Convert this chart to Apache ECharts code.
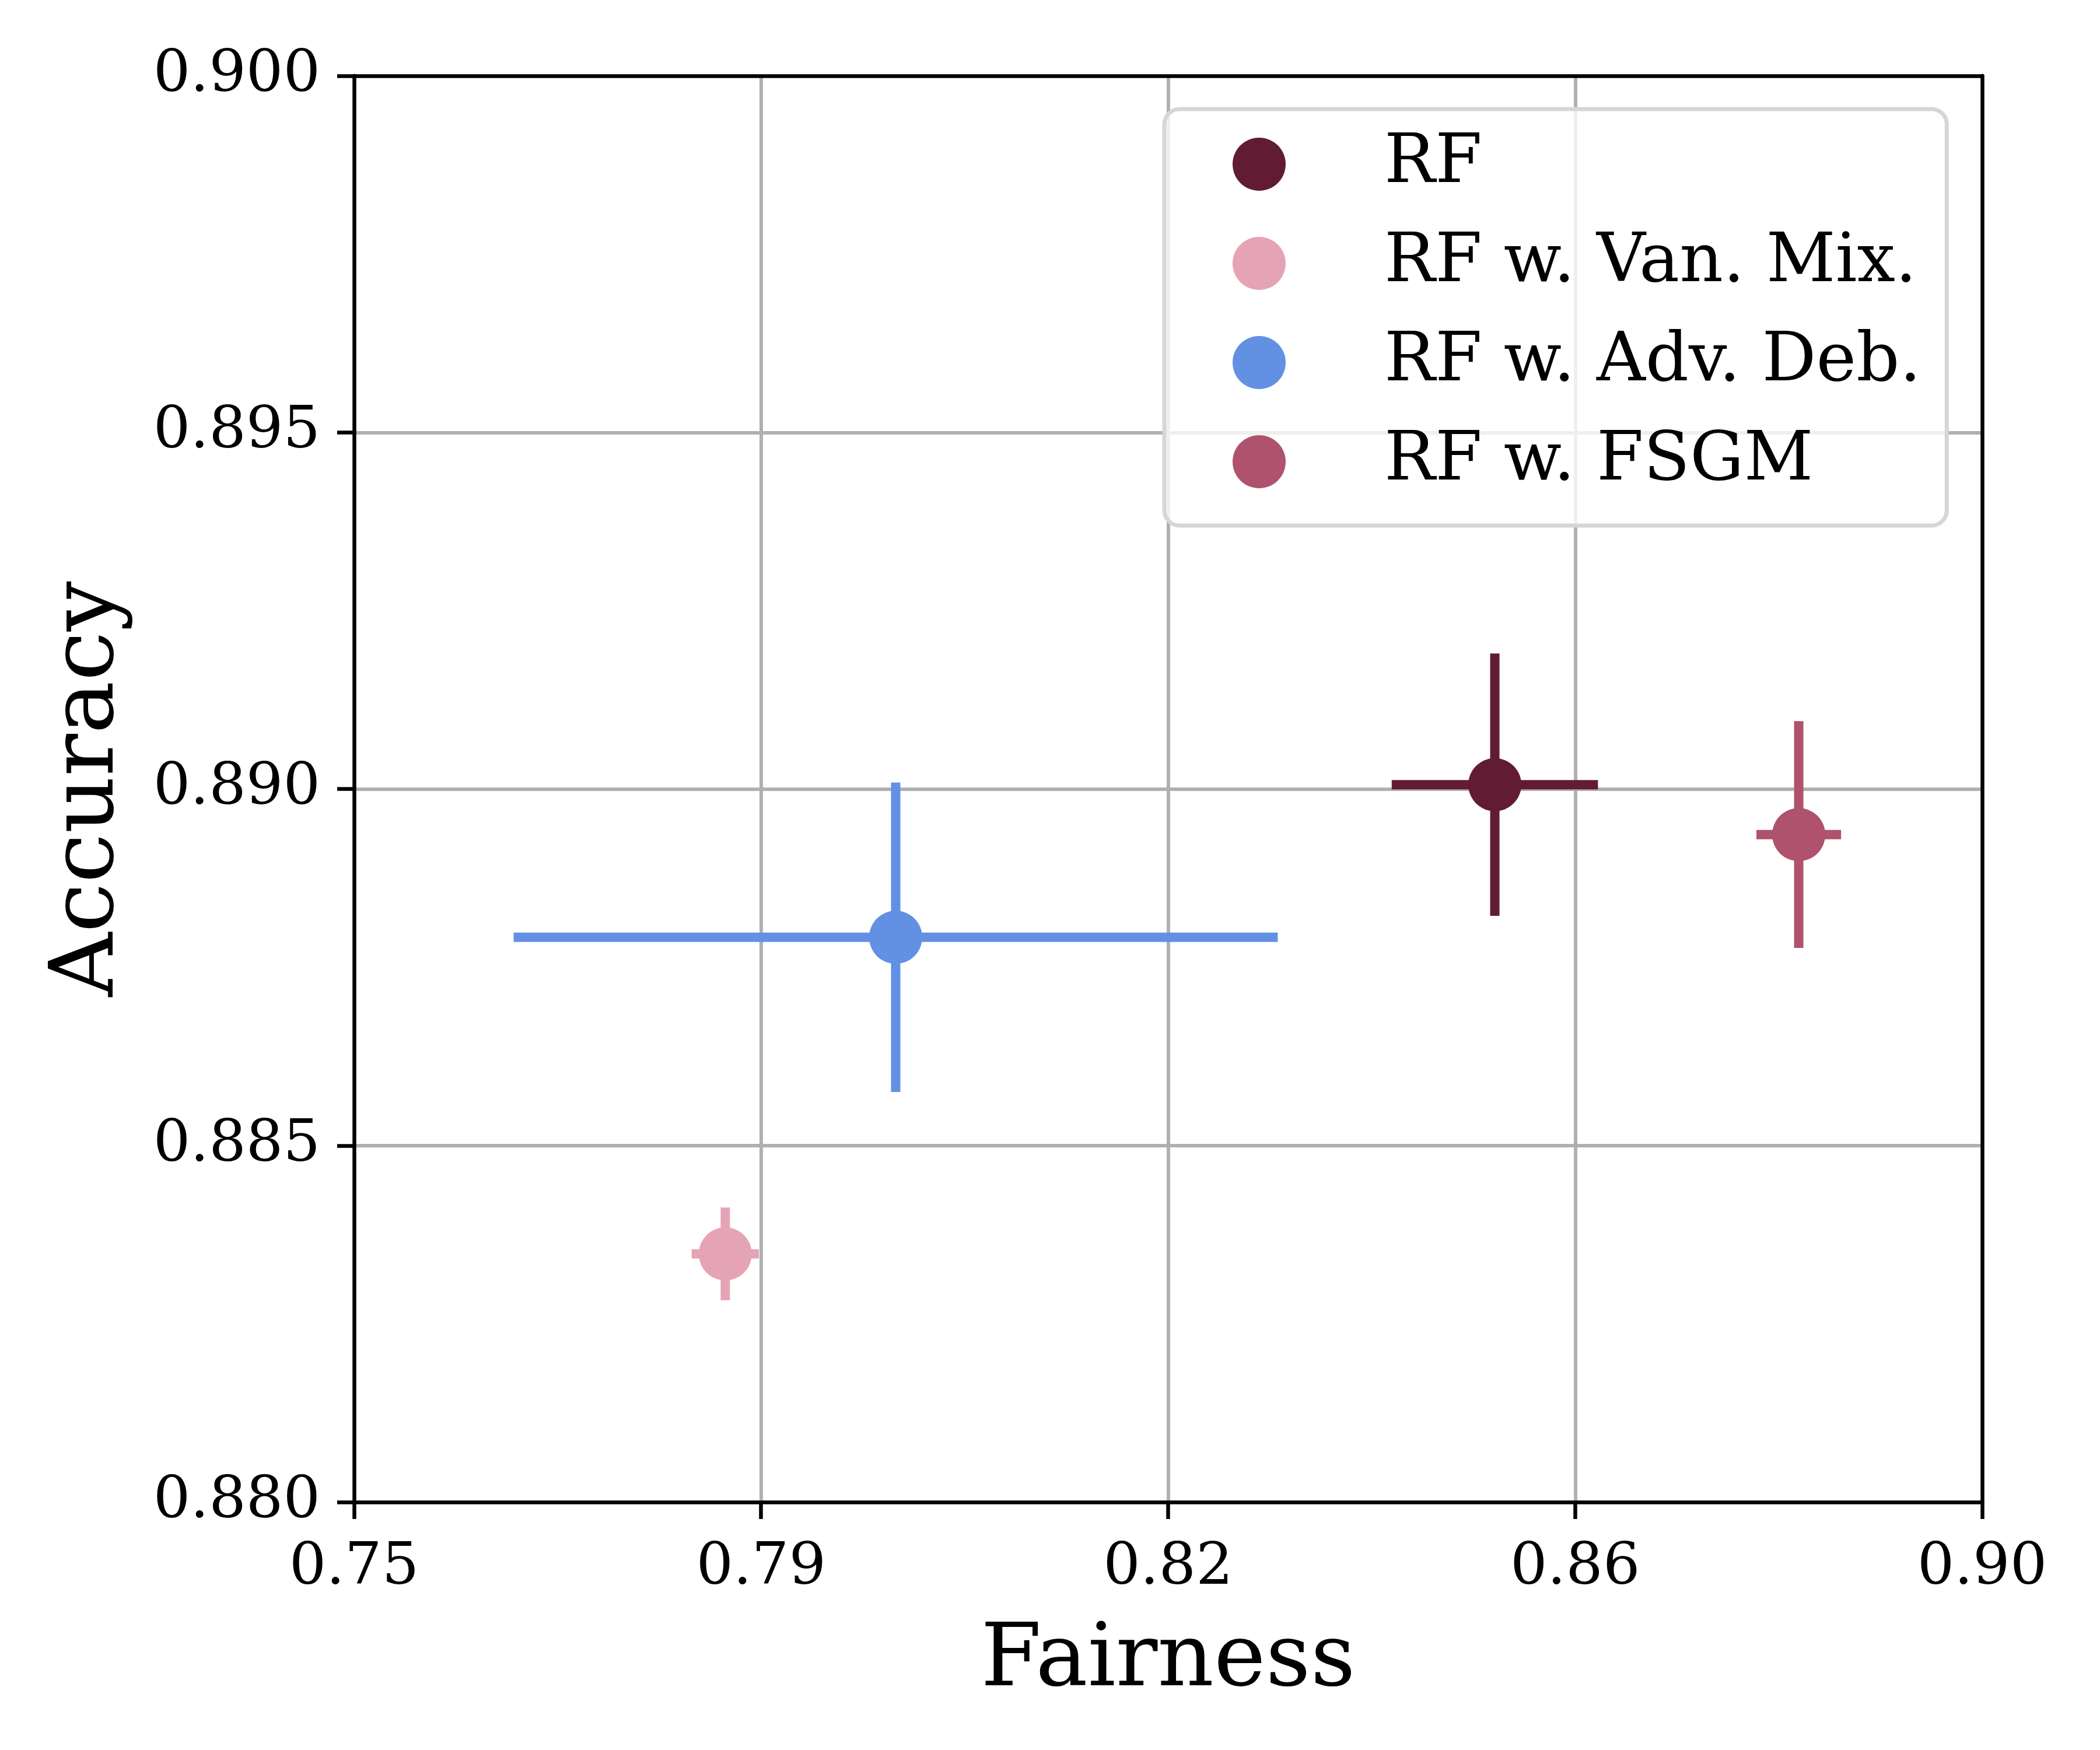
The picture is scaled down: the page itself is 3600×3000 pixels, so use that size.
<!DOCTYPE html>
<html>
<head>
<meta charset="utf-8">
<script src="https://cdn.jsdelivr.net/npm/echarts@6/dist/echarts.min.js"></script>
<style>
html,body{margin:0;padding:0;background:#fff;}
#chart{width:3600px;height:3000px;}
</style>
</head>
<body>
<div id="chart"></div>
<script>
// ---- data ----
const methods = ['RF', 'RF w. Van. Mix.', 'RF w. Adv. Deb.', 'RF w. FSGM'];
const fairness = [0.8551, 0.7842, 0.7999, 0.8831];
const fairnessErr = [0.0095, 0.0031, 0.0352, 0.0039];
const accuracy = [0.89006, 0.88348, 0.88792, 0.88936];
const accuracyErr = [0.00184, 0.00065, 0.00217, 0.00159];
const colors = ['#611c33', '#e5a4b6', '#6290e3', '#ae526d'];
const xTickLabels = ['0.75', '0.79', '0.82', '0.86', '0.90'];
const xMin = 0.75, xMax = 0.9, xStep = 0.0375;
const yMin = 0.88, yMax = 0.9, yStep = 0.005;

const FONT = 'DejaVu Serif';
const chart = echarts.init(document.getElementById('chart'), null, {renderer: 'canvas'});

const errData = methods.map((m, i) => [fairness[i], accuracy[i], fairnessErr[i], accuracyErr[i]]);

const scatterSeries = methods.map((m, i) => ({
  name: m,
  type: 'scatter',
  data: [[fairness[i], accuracy[i]]],
  symbol: 'circle',
  symbolSize: 91,
  itemStyle: {color: colors[i], opacity: 1},
  z: 5,
  emphasis: {disabled: true}
}));

const errSeries = {
  type: 'custom',
  data: errData,
  encode: {x: 0, y: 1},
  z: 3,
  clip: false,
  silent: true,
  renderItem: function (params, api) {
    const x = api.value(0), y = api.value(1), xe = api.value(2), ye = api.value(3);
    const c = colors[params.dataIndex];
    const l = api.coord([x - xe, y]);
    const r = api.coord([x + xe, y]);
    const t = api.coord([x, y + ye]);
    const b = api.coord([x, y - ye]);
    const style = {stroke: c, lineWidth: 16, lineCap: 'butt', fill: null};
    return {
      type: 'group',
      children: [
        {type: 'line', shape: {x1: l[0], y1: l[1], x2: r[0], y2: r[1]}, style: style},
        {type: 'line', shape: {x1: t[0], y1: t[1], x2: b[0], y2: b[1]}, style: style}
      ]
    };
  }
};

const spine = {show: true, onZero: false, lineStyle: {color: '#000', width: 6.5}};

const option = {
  backgroundColor: '#ffffff',
  animation: false,
  textStyle: {fontFamily: FONT},
  grid: {left: 607, right: 202, top: 130, bottom: 425, show: false},
  legend: {
    orient: 'vertical',
    left: 1996, top: 187,
    data: methods.map((m, i) => ({name: m, icon: 'circle', itemStyle: {color: colors[i]}})),
    itemWidth: 91, itemHeight: 91,
    itemGap: 13,
    padding: [16, 44, 31, 117],
    backgroundColor: 'rgba(255,255,255,0.8)',
    borderColor: '#d6d6d6',
    borderWidth: 7,
    borderRadius: 26,
    selectedMode: false,
    textStyle: {
      fontFamily: FONT, fontSize: 116, color: '#000', lineHeight: 115,
      padding: [42, 0, 0, 164]
    }
  },
  xAxis: [{
    type: 'value',
    min: xMin, max: xMax, interval: xStep,
    name: 'Fairness',
    nameLocation: 'middle',
    nameGap: 200,
    nameTextStyle: {fontFamily: FONT, fontSize: 150, color: '#000'},
    axisLine: spine,
    axisTick: {show: true, length: 29, lineStyle: {color: '#000', width: 6.5}},
    axisLabel: {
      margin: 64, fontFamily: FONT, fontSize: 100, color: '#000',
      showMinLabel: true, showMaxLabel: true,
      formatter: function (v) { return xTickLabels[Math.round((v - xMin) / xStep)]; }
    },
    splitLine: {show: true, showMinLine: false, showMaxLine: false, lineStyle: {color: '#b0b0b0', width: 6}}
  }, {
    type: 'value', position: 'top',
    min: xMin, max: xMax, interval: xStep,
    axisLine: spine, axisTick: {show: false}, axisLabel: {show: false}, splitLine: {show: false}
  }],
  yAxis: [{
    type: 'value',
    min: yMin, max: yMax, interval: yStep,
    name: 'Accuracy',
    nameLocation: 'middle',
    nameGap: 377,
    nameRotate: 90,
    nameTextStyle: {fontFamily: FONT, fontSize: 152, color: '#000'},
    axisLine: spine,
    axisTick: {show: true, length: 29, lineStyle: {color: '#000', width: 6.5}},
    axisLabel: {
      margin: 58, fontFamily: FONT, fontSize: 100, color: '#000',
      showMinLabel: true, showMaxLabel: true,
      formatter: function (v) { return v.toFixed(3); }
    },
    splitLine: {show: true, showMinLine: false, showMaxLine: false, lineStyle: {color: '#b0b0b0', width: 6}}
  }, {
    type: 'value', position: 'right',
    min: yMin, max: yMax, interval: yStep,
    axisLine: spine, axisTick: {show: false}, axisLabel: {show: false}, splitLine: {show: false}
  }],
  series: [errSeries].concat(scatterSeries)
};

chart.setOption(option);
</script>
</body>
</html>
